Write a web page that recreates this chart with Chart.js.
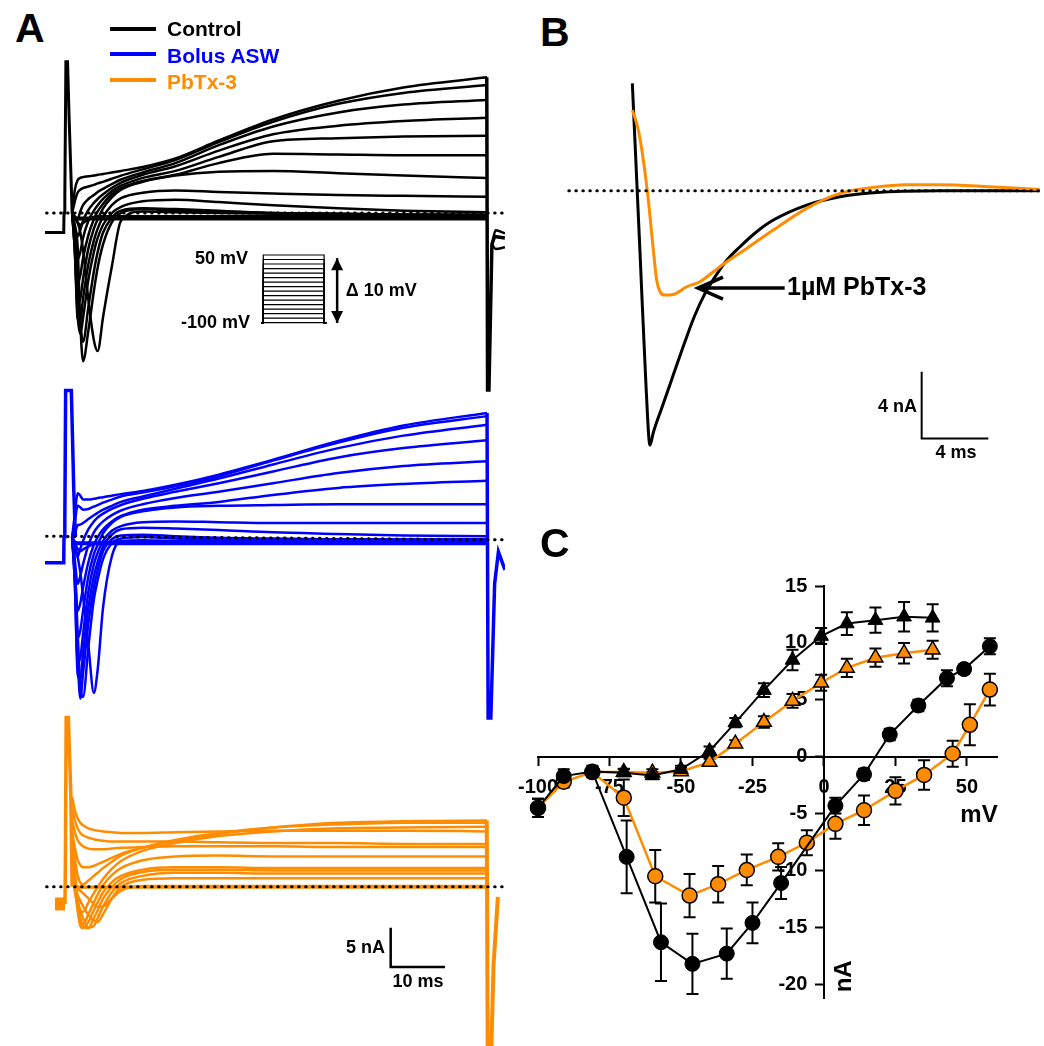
<!DOCTYPE html>
<html>
<head>
<meta charset="utf-8">
<script src="https://cdn.jsdelivr.net/npm/chart.js"></script>
<style>
  body { margin: 0; background: #fff; }
  #page { position: relative; width: 1044px; height: 1046px; overflow: hidden;
          font-family: "Liberation Sans", Arial, sans-serif; font-weight: bold; }
  canvas { position: absolute; }
  .letter { position: absolute; font-size: 41px; line-height: 1; }
  .leg { position: absolute; font-size: 21px; line-height: 1; white-space: nowrap; }
  .sw { position: absolute; width: 46px; height: 4px; }
</style>
</head>
<body>
<div id="page">
  <canvas id="a1" width="460" height="345" style="left:45px;top:50px"></canvas>
  <canvas id="a2" width="460" height="340" style="left:45px;top:385px"></canvas>
  <canvas id="a3" width="460" height="341" style="left:45px;top:705px"></canvas>
  <canvas id="b" width="484" height="400" style="left:560px;top:70px"></canvas>
  <canvas id="c" width="544" height="486" style="left:500px;top:560px"></canvas>

  <div class="letter" style="left:15px;top:8px">A</div>
  <div class="letter" style="left:540px;top:12px">B</div>
  <div class="letter" style="left:540px;top:523px">C</div>

  <div class="sw" style="left:110px;top:27px;background:#000000"></div>
  <div class="sw" style="left:110px;top:52px;background:#0000ff"></div>
  <div class="sw" style="left:110px;top:78px;background:#ff8c00"></div>
  <div class="leg" style="left:167px;top:18px;color:#000000">Control</div>
  <div class="leg" style="left:167px;top:45px;color:#0000ff">Bolus ASW</div>
  <div class="leg" style="left:167px;top:71px;color:#ff8c00">PbTx-3</div>
</div>
<script>
// ---------- panel A: current traces (time in ms, current in nA) ----------
const G = [5.0, 5.5, 6.0, 6.5, 7.0, 8.0, 9.0, 9.7, 10.7, 12.3, 14, 18, 24, 32, 42, 54, 66, 81.4];

const ctlTraces = [
  [0, 3.0, 4.2, 4.5, 4.6, 4.7, 4.8, 4.9, 5.0, 5.2, 5.4, 5.9, 7.0, 9.3, 12.0, 14.4, 16.1, 17.4],
  [0, 1.5, 2.6, 3.0, 3.2, 3.4, 3.6, 3.8, 4.0, 4.4, 4.8, 5.6, 6.8, 9.1, 11.7, 14.0, 15.4, 16.4],
  [0, -0.5, -0.8, 0.2, 1.0, 1.8, 2.3, 2.7, 3.1, 3.7, 4.3, 5.2, 6.4, 8.7, 11.1, 12.9, 13.9, 14.5],
  [0, -1.5, -3.0, -2.2, -1.0, 0.4, 1.3, 1.8, 2.4, 3.2, 3.9, 4.9, 6.0, 8.0, 10.1, 11.2, 11.8, 12.2],
  [0, -2.5, -6.0, -5.0, -3.2, -1.0, 0.3, 1.0, 1.8, 2.8, 3.5, 4.5, 5.4, 7.2, 9.2, 9.6, 9.8, 9.9],
  [0, -3.5, -9.0, -8.0, -5.8, -2.8, -0.8, 0.2, 1.2, 2.4, 3.2, 4.1, 4.9, 6.4, 7.6, 7.5, 7.4, 7.4],
  [0, -4.5, -11.5, -11.0, -8.5, -4.5, -2.0, -0.8, 0.6, 2.0, 3.0, 4.0, 4.8, 5.3, 5.4, 5.1, 4.8, 4.5],
  [0, -5.0, -13.5, -13.8, -11.0, -6.5, -3.5, -2.0, -0.5, 1.0, 1.9, 2.6, 2.9, 2.7, 2.5, 2.3, 2.2, 2.1],
  [0, -5.0, -13.0, -15.5, -13.5, -8.5, -5.0, -3.2, -1.5, 0, 0.8, 1.5, 1.7, 1.4, 1.0, 0.6, 0.3, 0.1],
  [0, -3.5, -9.0, -14.0, -16.5, -12.0, -7.5, -5.0, -2.5, -0.6, 0.3, 0.6, 0.5, 0.3, 0, -0.1, -0.2, -0.2],
  [0, -2.0, -4.2, -14.0, -19.0, -15.0, -10.0, -7.0, -4.0, -1.2, 0, 0.5, 0.3, 0.2, 0, -0.1, -0.2, -0.3],
  [0, -0.5, -1.2, -2.5, -4.7, -11.2, -16.3, -17.7, -13.3, -6.9, -1.0, 0.2, 0.1, 0, -0.1, -0.2, -0.3, -0.3],
  [0, -0.6, -1.2, -1.5, -1.3, -0.8, -0.5, -0.4, -0.4, -0.4, -0.4, -0.4, -0.4, -0.4, -0.4, -0.4, -0.4, -0.4],
  [0, -0.5, -0.6, -0.6, -0.6, -0.6, -0.6, -0.6, -0.6, -0.6, -0.6, -0.6, -0.6, -0.6, -0.6, -0.6, -0.6, -0.6],
  [0, -0.6, -0.7, -0.7, -0.7, -0.7, -0.7, -0.7, -0.7, -0.7, -0.7, -0.7, -0.7, -0.7, -0.7, -0.7, -0.7, -0.7],
  [0, -0.7, -0.8, -0.8, -0.8, -0.8, -0.8, -0.8, -0.8, -0.8, -0.8, -0.8, -0.8, -0.8, -0.8, -0.8, -0.8, -0.8]
];

const bluTraces = [
  [0, 3.0, 5.6, 5.3, 4.8, 4.8, 4.9, 5.0, 5.1, 5.3, 5.5, 5.9, 6.7, 8.0, 9.9, 12.3, 14.3, 15.9],
  [0, 2.0, 4.0, 3.8, 3.5, 3.6, 3.9, 4.1, 4.4, 4.8, 5.2, 5.7, 6.5, 7.8, 9.8, 12.1, 14.0, 15.5],
  [0, 0.5, 1.5, 1.6, 1.8, 2.3, 2.8, 3.1, 3.5, 4.0, 4.5, 5.2, 6.2, 7.5, 9.3, 11.4, 13.0, 14.4],
  [0, -1.5, -2.5, -1.5, -0.5, 1.0, 2.0, 2.5, 3.0, 3.6, 4.1, 4.9, 5.8, 6.9, 8.4, 10.2, 11.4, 12.4],
  [0, -3.0, -6.0, -5.0, -3.5, -1.0, 0.6, 1.3, 2.0, 2.8, 3.4, 4.2, 5.0, 5.8, 6.9, 8.2, 9.1, 9.7],
  [0, -4.0, -9.5, -8.5, -6.5, -3.2, -1.0, 0, 1.0, 2.0, 2.7, 3.5, 4.0, 4.5, 5.4, 6.3, 6.8, 7.2],
  [0, -5.0, -13.0, -12.0, -9.5, -5.0, -2.2, -1.0, 0.5, 1.8, 2.6, 3.3, 3.8, 4.0, 4.1, 4.2, 4.2, 4.2],
  [0, -6.0, -16.0, -15.5, -12.5, -7.0, -3.5, -2.0, -0.5, 0.8, 1.4, 1.9, 2.0, 1.9, 1.8, 1.8, 1.8, 1.8],
  [0, -6.0, -17.5, -18.3, -15.0, -9.0, -5.0, -3.2, -1.2, 0.3, 1.0, 1.2, 1.1, 0.9, 0.6, 0.4, 0.2, 0.1],
  [0, -5.0, -15.0, -20.7, -17.5, -11.0, -6.5, -4.2, -1.8, -0.3, 0.2, 0.3, 0.1, -0.1, -0.2, -0.3, -0.3, -0.3],
  [0, -4.0, -12.0, -19.0, -20.5, -14.0, -8.0, -5.5, -2.8, -0.8, -0.2, 0, -0.2, -0.3, -0.4, -0.4, -0.4, -0.4],
  [0, -1.0, -2.5, -4.5, -7.5, -14.0, -20.0, -17.0, -9.0, -2.5, -0.5, -0.4, -0.5, -0.5, -0.5, -0.5, -0.5, -0.5],
  [0, -0.8, -1.5, -1.8, -1.6, -1.2, -0.9, -0.8, -0.7, -0.6, -0.6, -0.6, -0.6, -0.6, -0.6, -0.6, -0.6, -0.6],
  [0, -0.6, -0.7, -0.7, -0.7, -0.7, -0.7, -0.7, -0.7, -0.7, -0.7, -0.7, -0.7, -0.7, -0.7, -0.7, -0.7, -0.7],
  [0, -0.7, -0.8, -0.8, -0.8, -0.8, -0.8, -0.8, -0.8, -0.8, -0.8, -0.8, -0.8, -0.8, -0.8, -0.8, -0.8, -0.8],
  [0, -0.8, -0.9, -0.9, -0.9, -0.9, -0.9, -0.9, -0.9, -0.9, -0.9, -0.9, -0.9, -0.9, -0.9, -0.9, -0.9, -0.9]
];

const orgTraces = [
  [11.5, 9.8, 8.8, 8.2, 7.9, 7.5, 7.3, 7.2, 7.1, 7.0, 6.9, 6.9, 7.0, 7.1, 7.2, 7.2, 7.2, 7.1],
  [10.0, 8.5, 7.5, 6.9, 6.6, 6.3, 6.1, 6.0, 5.9, 5.8, 5.8, 5.8, 5.8, 5.7, 5.6, 5.6, 5.5, 5.5],
  [8.5, 7.0, 6.0, 5.5, 5.2, 4.9, 4.8, 4.8, 4.8, 4.9, 5.0, 5.1, 5.2, 5.2, 5.2, 5.1, 5.1, 5.1],
  [7.0, 5.0, 3.5, 2.8, 2.5, 2.5, 2.7, 2.9, 3.2, 3.7, 4.2, 5.0, 5.9, 6.8, 7.6, 8.2, 8.4, 8.5],
  [6.0, 3.5, 1.5, 0.5, 0.3, 0.8, 1.4, 1.8, 2.4, 3.2, 4.0, 5.0, 6.0, 6.9, 7.6, 8.0, 8.2, 8.2],
  [5.0, 2.0, -1.5, -3.0, -3.2, -2.0, -0.8, 0, 1.0, 2.3, 3.3, 4.6, 5.6, 6.5, 7.1, 7.5, 7.6, 7.7],
  [4.0, 1.0, -2.5, -4.3, -4.8, -3.5, -2.0, -1.0, 0.2, 1.5, 2.4, 3.4, 3.9, 4.0, 3.9, 3.9, 3.9, 3.9],
  [3.0, 0, -3.0, -5.0, -5.3, -4.5, -3.0, -2.0, -0.7, 0.6, 1.4, 2.2, 2.5, 2.5, 2.4, 2.4, 2.4, 2.4],
  [2.5, -0.5, -2.5, -4.0, -5.0, -5.3, -4.0, -3.0, -1.5, 0, 1.0, 1.9, 2.2, 2.2, 2.1, 2.1, 2.1, 2.1],
  [2.0, -0.5, -2.0, -3.0, -4.0, -5.2, -5.0, -4.0, -2.5, -0.7, 0.5, 1.4, 1.8, 1.8, 1.7, 1.7, 1.7, 1.7],
  [1.5, 0, -1.0, -1.8, -2.5, -3.6, -4.3, -4.5, -3.5, -1.5, 0, 0.9, 1.1, 1.1, 1.1, 1.1, 1.1, 1.1],
  [1.0, 0.3, -0.2, -0.5, -0.8, -1.5, -2.2, -2.6, -2.5, -1.5, -0.5, 0.1, 0.1, 0.1, 0.1, 0.1, 0.1, 0.1],
  [0.8, 0.3, 0.1, 0, 0, 0, 0, 0, 0, 0, 0, 0, 0, 0, 0, 0, 0, 0],
  [0.6, 0.2, 0, -0.1, -0.1, -0.1, -0.1, -0.1, -0.1, -0.1, -0.1, -0.1, -0.1, -0.1, -0.1, -0.1, -0.1, -0.1]
];

// holding level, capacitive spike at step onset, and tail at step end
const ctlPreT = [0, 3.45, 3.5, 3.65, 3.85, 4.15, 4.45, 5.0];
const ctlPreI = [-2.5, -2.5, 0, 2, 19.4, 19.4, 12, 0];
const ctlTailT = [81.35, 81.5, 81.75, 82.3, 82.8, 84.7];
const ctlTailI = [17.4, -22.7, -22.7, -4.0, -3.0, -3.2];
const ctlStubT = [82.3, 83.0, 84.7];
const ctlStubA = [-4.0, -2.2, -2.6];
const ctlStubB = [-4.0, -4.6, -4.4];

const bluPreT = [0, 3.45, 3.5, 3.65, 3.8, 4.85, 5.3, 5.6];
const bluPreI = [-3.3, -3.3, 0, 2, 18.8, 18.8, 6, 0];
const bluTailT = [81.4, 81.6, 82.1, 82.8, 83.5, 84.7];
const bluTailI = [15.9, -23.2, -23.2, -6, -1.9, -4.2];

const orgHoldT = [1.84, 3.68];
const orgHoldI = [-2.2, -2.2];
const orgPreT = [3.68, 3.75, 3.9, 4.3, 4.75, 5.0];
const orgPreI = [-2.2, 3, 21.7, 21.7, 12, 0];
const orgTailT = [81.35, 81.55, 82.0, 82.6, 83.4];
const orgTailI = [8.5, -26, -26, -10, -1.3];

const baseT = [0.3, 84.5];
const ctlBaseI = [0, 0];
const bluBaseI = [0.1, -0.35];
const orgBaseI = [0, 0];

// voltage protocol inset (mV)
const stepsMV = [-100, -90, -80, -70, -60, -50, -40, -30, -20, -10, 0, 10, 20, 30, 40, 50];
const protT = [39.8, 40.2, 40.2, 51.4, 51.4, 51.8];

// scale bar, panel A (5 nA / 10 ms)
const barAT = [63.66, 63.66, 73.66];
const barAI = [-5.26, -10.26, -10.26];

// ---------- panel B ----------
const bCtlT = [3.86, 4.32, 4.68, 4.92, 5.12, 5.6, 6.3, 7.0, 7.6, 8.2, 8.8, 9.5, 10.32, 11.32, 12.32, 14.32, 16.32, 18.32, 22.3, 28.3];
const bCtlI = [6.44, -3.7, -11.7, -15.26, -14.5, -13.1, -11.1, -9.1, -7.5, -6.2, -5.2, -4.2, -3.36, -2.46, -1.76, -0.86, -0.36, -0.12, 0, 0];
const bPbT = [3.86, 4.22, 4.52, 4.82, 5.12, 5.32, 5.52, 5.82, 6.32, 7.12, 7.92, 8.72, 9.52, 10.72, 12.32, 14.32, 16.32, 18.32, 20.32, 22.3, 25.3, 28.3];
const bPbI = [4.84, 3.64, 1.84, -0.56, -3.56, -5.36, -6.06, -6.26, -6.22, -5.76, -5.46, -4.86, -4.26, -3.46, -2.36, -1.06, -0.16, 0.2, 0.36, 0.36, 0.24, 0.08];
const bBaseT = [0.05, 28.3];
const bBaseI = [0, 0];
const barBT = [21.22, 21.22, 25.22];
const barBI = [-10.86, -14.86, -14.86];

// ---------- panel C: I-V ----------
const naV = [-100, -91, -81, -69, -57, -46, -34, -25, -15, 4, 14, 23, 33, 43, 49, 58];
const naCtl = [-4.5, -1.7, -1.3, -8.8, -16.3, -18.2, -17.3, -14.6, -11.1, -4.3, -1.55, 1.95, 4.5, 6.9, 7.7, 9.7];
const naCtlErr = [0.8, 0.6, 0.5, 3.2, 3.4, 2.65, 2.2, 1.8, 1.4, 0.7, 0.5, 0.5, 0.5, 0.7, 0.4, 0.7];

const naPbV = [-100, -91, -81, -70, -59, -47, -37, -27, -16, -6, 4, 14, 25, 35, 45, 51, 58];
const naPb = [-4.5, -2.2, -1.35, -3.6, -10.5, -12.2, -11.2, -9.95, -8.8, -7.55, -5.9, -4.7, -3.0, -1.6, 0.26, 2.8, 5.9];
const naPbErr = [0.8, 0.5, 0.4, 1.6, 2.3, 1.9, 1.6, 1.35, 1.2, 1.1, 1.3, 1.3, 1.2, 1.3, 1.15, 1.8, 1.4];

const kV = [-81, -70, -60, -50, -40, -31, -21, -11, -1, 8, 18, 28, 38];
const kCtl = [-1.3, -1.4, -1.65, -1.1, 0.5, 3.0, 5.85, 8.5, 10.6, 11.7, 12.0, 12.3, 12.2];
const kCtlErr = [0, 0.3, 0.3, 0.3, 0.4, 0.4, 0.6, 0.9, 0.7, 1.0, 1.1, 1.3, 1.2];

const kPbV = [-81, -70, -60, -50, -40, -31, -21, -11, -1, 8, 18, 28, 38];
const kPb = [-1.35, -1.35, -1.4, -1.3, -0.47, 1.15, 3.05, 4.9, 6.5, 7.8, 8.7, 9.1, 9.4];
const kPbErr = [0, 0.3, 0.3, 0.3, 0.3, 0.3, 0.5, 0.6, 0.7, 0.8, 0.8, 0.9, 0.8];

const xRangeC = [-100, 60.5];
const yRangeC = [-21.2, 15];

// ---------- helpers ----------
const FONT = '"Liberation Sans", Arial, sans-serif';
const BLACK = '#000000', BLUE = '#0000ff', ORANGE = '#ff8c00';

function pts(xs, ys) { return xs.map((x, i) => ({x: x, y: ys[i]})); }

function line(xs, ys, color, width, extra) {
  return Object.assign({
    data: pts(xs, ys), borderColor: color, backgroundColor: color,
    borderWidth: width, pointRadius: 0, fill: false, tension: 0
  }, extra || {});
}

function traceSets(traces, color) {
  return traces.map(v => line(G, v, color, 2.5, {cubicInterpolationMode: 'monotone'}));
}

function dotted(xs, ys) {
  return line(xs, ys, BLACK, 3, {borderDash: [0.5, 6.5], borderCapStyle: 'round'});
}

function textPlugin(items) {
  return {
    id: 'texts',
    afterDatasetsDraw(chart) {
      const ctx = chart.ctx;
      items.forEach(it => {
        const px = chart.scales[it.xAxis || 'x'].getPixelForValue(it.x);
        const py = chart.scales[it.yAxis || 'y'].getPixelForValue(it.y);
        ctx.save();
        ctx.translate(px, py);
        if (it.rotate) ctx.rotate(it.rotate * Math.PI / 180);
        ctx.font = 'bold ' + (it.size || 18) + 'px ' + FONT;
        ctx.fillStyle = '#000';
        ctx.textAlign = it.align || 'left';
        ctx.textBaseline = 'middle';
        ctx.fillText(it.text, 0, 0);
        ctx.restore();
      });
    }
  };
}

function arrowPlugin(arrows) {
  return {
    id: 'arrows',
    afterDatasetsDraw(chart) {
      const ctx = chart.ctx;
      arrows.forEach(a => {
        const xs = chart.scales[a.xAxis || 'x'], ys = chart.scales[a.yAxis || 'y'];
        const x1 = xs.getPixelForValue(a.x1), y1 = ys.getPixelForValue(a.y1);
        const x2 = xs.getPixelForValue(a.x2), y2 = ys.getPixelForValue(a.y2);
        ctx.save();
        ctx.strokeStyle = '#000'; ctx.fillStyle = '#000';
        ctx.lineWidth = a.width;
        ctx.beginPath(); ctx.moveTo(x1, y1); ctx.lineTo(x2, y2); ctx.stroke();
        const heads = a.both ? [[x2, y2, x1, y1], [x1, y1, x2, y2]] : [[x1, y1, x2, y2]];
        heads.forEach(h => {
          const ang = Math.atan2(h[3] - h[1], h[2] - h[0]);
          const bx = h[2] - a.len * Math.cos(ang), by = h[3] - a.len * Math.sin(ang);
          const nx = -Math.sin(ang) * a.half, ny = Math.cos(ang) * a.half;
          ctx.beginPath();
          ctx.moveTo(bx + nx, by + ny); ctx.lineTo(h[2], h[3]); ctx.lineTo(bx - nx, by - ny);
          if (a.filled) { ctx.closePath(); ctx.fill(); } else { ctx.stroke(); }
        });
        ctx.restore();
      });
    }
  };
}

const errorBarPlugin = {
  id: 'errorBars',
  beforeDatasetsDraw(chart) {
    const ctx = chart.ctx, xs = chart.scales.x, ys = chart.scales.y;
    ctx.save();
    ctx.strokeStyle = '#000';
    ctx.lineWidth = 2;
    chart.data.datasets.forEach(ds => {
      if (!ds.errors) return;
      ds.data.forEach((p, i) => {
        const e = ds.errors[i];
        if (!e) return;
        const px = xs.getPixelForValue(p.x);
        const top = ys.getPixelForValue(p.y + e), bot = ys.getPixelForValue(p.y - e);
        ctx.beginPath();
        ctx.moveTo(px, top); ctx.lineTo(px, bot);
        ctx.moveTo(px - 6, top); ctx.lineTo(px + 6, top);
        ctx.moveTo(px - 6, bot); ctx.lineTo(px + 6, bot);
        ctx.stroke();
      });
    });
    ctx.restore();
  }
};

function baseOptions(xMin, xMax, yMin, yMax, extraScales) {
  return {
    responsive: false, animation: false, devicePixelRatio: 1, events: [],
    layout: {padding: 0},
    plugins: {legend: {display: false}, tooltip: {enabled: false}},
    scales: Object.assign({
      x: {type: 'linear', display: false, min: xMin, max: xMax},
      y: {type: 'linear', display: false, min: yMin, max: yMax}
    }, extraScales || {})
  };
}

// ---------- A1: control ----------
const protSets = stepsMV.map(v => line(protT, [-100, -100, v, v, -100, -100], BLACK, 1.2, {yAxisID: 'yp'}));
new Chart(document.getElementById('a1'), {
  type: 'line',
  data: {datasets: [
    dotted(baseT, ctlBaseI),
    line(ctlPreT, ctlPreI, BLACK, 3),
    line(ctlTailT, ctlTailI, BLACK, 3.5),
    line(ctlStubT, ctlStubA, BLACK, 2.5, {cubicInterpolationMode: 'monotone'}),
    line(ctlStubT, ctlStubB, BLACK, 2.5, {cubicInterpolationMode: 'monotone'}),
    ...traceSets(ctlTraces, BLACK),
    ...protSets
  ]},
  options: baseOptions(0, 84.71, -23.33, 20.9, {
    yp: {type: 'linear', display: false, min: -260.2, max: 504.2}
  }),
  plugins: [
    textPlugin([
      {text: '50 mV', x: 37.4, y: 41, yAxis: 'yp', align: 'right', size: 18},
      {text: '-100 mV', x: 37.75, y: -100, yAxis: 'yp', align: 'right', size: 18},
      {text: '\u0394 10 mV', x: 55.4, y: -29.8, yAxis: 'yp', align: 'left', size: 18}
    ]),
    arrowPlugin([
      {x1: 53.8, y1: -100.7, x2: 53.8, y2: 43, yAxis: 'yp', width: 2.5, both: true, filled: true, len: 12, half: 6}
    ])
  ]
});

// ---------- A2: bolus ASW ----------
new Chart(document.getElementById('a2'), {
  type: 'line',
  data: {datasets: [
    dotted(baseT, bluBaseI),
    line(bluPreT, bluPreI, BLUE, 3.5),
    line(bluTailT, bluTailI, BLUE, 3.5),
    ...traceSets(bluTraces, BLUE)
  ]},
  options: baseOptions(0, 84.71, -24.1, 19.49)
});

// ---------- A3: PbTx-3 ----------
new Chart(document.getElementById('a3'), {
  type: 'line',
  data: {datasets: [
    dotted(baseT, orgBaseI),
    line(barAT, barAI, BLACK, 2.5),
    line(orgHoldT, orgHoldI, ORANGE, 13),
    line(orgPreT, orgPreI, ORANGE, 3.5),
    line(orgTailT, orgTailI, ORANGE, 4),
    ...traceSets(orgTraces, ORANGE)
  ]},
  options: baseOptions(0, 84.71, -20.4, 23.3),
  plugins: [textPlugin([
    {text: '5 nA', x: 62.6, y: -7.86, align: 'right', size: 18},
    {text: '10 ms', x: 68.7, y: -12.18, align: 'center', size: 18}
  ])]
});

// ---------- B ----------
new Chart(document.getElementById('b'), {
  type: 'line',
  data: {datasets: [
    dotted(bBaseT, bBaseI),
    line(bPbT, bPbI, ORANGE, 3, {cubicInterpolationMode: 'monotone'}),
    line(bCtlT, bCtlI, BLACK, 3, {cubicInterpolationMode: 'monotone'}),
    line(barBT, barBI, BLACK, 2)
  ]},
  options: baseOptions(-0.48, 28.56, -16.75, 7.24),
  plugins: [
    textPlugin([
      {text: '4 nA', x: 20.94, y: -12.98, align: 'right', size: 18},
      {text: '4 ms', x: 23.28, y: -15.74, align: 'center', size: 18},
      {text: '1\u00b5M PbTx-3', x: 13.14, y: -5.84, align: 'left', size: 25}
    ]),
    arrowPlugin([
      {x1: 13.0, y1: -5.84, x2: 7.8, y2: -5.84, width: 3.5, filled: false, len: 25, half: 11}
    ])
  ]
});

// ---------- C ----------
const tickFont = {family: FONT, size: 20, weight: 'bold'};
function axisOpts(range, step, pos, fitKey, pad, fmt) {
  return {
    type: 'linear', min: range[0], max: range[1], position: pos,
    grid: {display: true, drawOnChartArea: false, drawTicks: true, tickLength: 8, tickWidth: 2, tickColor: '#000'},
    border: {display: true, color: '#000', width: 2},
    ticks: {stepSize: step, includeBounds: false, color: '#000', font: tickFont, padding: pad,
            maxRotation: 0, autoSkip: false, callback: fmt},
    afterFit: s => { s[fitKey] = 0; }
  };
}
new Chart(document.getElementById('c'), {
  type: 'line',
  data: {datasets: [
    {data: pts(naV, naCtl), errors: naCtlErr, borderColor: BLACK, borderWidth: 2, clip: false,
     pointStyle: 'circle', pointRadius: 7.5, pointBackgroundColor: BLACK, pointBorderColor: BLACK, pointBorderWidth: 1, order: 0},
    {data: pts(naPbV, naPb), errors: naPbErr, borderColor: ORANGE, borderWidth: 2.5, clip: false,
     pointStyle: 'circle', pointRadius: 7.5, pointBackgroundColor: ORANGE, pointBorderColor: BLACK, pointBorderWidth: 1.5, order: 1},
    {data: pts(kV, kCtl), errors: kCtlErr, borderColor: BLACK, borderWidth: 2, clip: false,
     pointStyle: 'triangle', pointRadius: kV.map((v, i) => i === 0 ? 0 : 8.5),
     pointBackgroundColor: BLACK, pointBorderColor: BLACK, pointBorderWidth: 1, order: 2},
    {data: pts(kPbV, kPb), errors: kPbErr, borderColor: ORANGE, borderWidth: 2.5, clip: false,
     pointStyle: 'triangle', pointRadius: kPbV.map((v, i) => i === 0 ? 0 : 8.5),
     pointBackgroundColor: ORANGE, pointBorderColor: BLACK, pointBorderWidth: 1.5, order: 3}
  ]},
  options: {
    responsive: false, animation: false, devicePixelRatio: 1, events: [],
    layout: {padding: {left: 38, right: 47, top: 26, bottom: 48}},
    plugins: {legend: {display: false}, tooltip: {enabled: false}},
    scales: {
      x: axisOpts(xRangeC, 25, {y: 0}, 'height', 11, v => String(v)),
      // labels of an axis placed at a value sit flush on the line; pad them with spaces
      y: axisOpts(yRangeC, 5, {x: 0}, 'width', 4, v => v + '   ')
    }
  },
  plugins: [
    errorBarPlugin,
    textPlugin([
      {text: 'mV', x: 54.2, y: -5.15, align: 'center', size: 24},
      {text: 'nA', x: 7.3, y: -19.3, align: 'center', size: 24, rotate: -90}
    ])
  ]
});
</script>
</body>
</html>
